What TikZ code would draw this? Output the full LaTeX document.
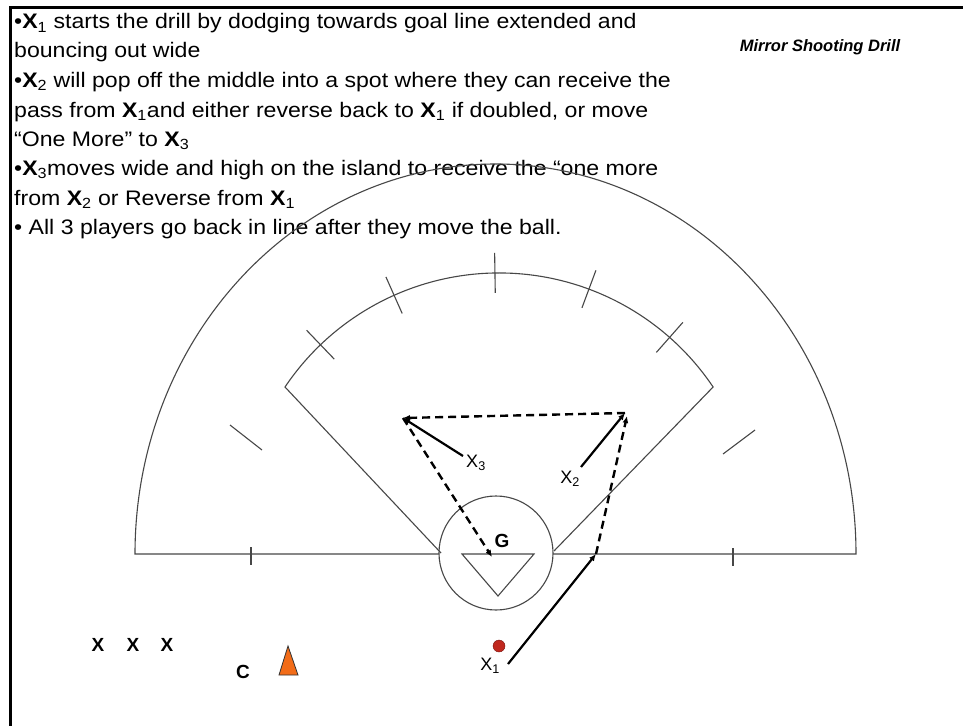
\documentclass[tikz,border=0pt]{standalone}
\usepackage{fontspec}
\setmainfont{Liberation Sans}
\newfontfamily\widefont{Liberation Sans}[FakeStretch=1.1]
\usetikzlibrary{arrows.meta}
\newcommand\PX[1]{\textbf{X}\textsubscript{#1}}
\begin{document}
\begin{tikzpicture}[x=1pt,y=1pt,
  field/.style={draw=black!72, line width=1.1pt},
  mv/.style={line width=2.2pt, -{Latex[length=7pt,width=6pt]}},
  pass/.style={line width=2.4pt, dash pattern=on 8pt off 5pt, -{Latex[length=7pt,width=6pt]}},
  txt/.style={anchor=base west, inner sep=0pt, font=\widefont\fontsize{21}{24}\selectfont},
  lbl/.style={inner sep=0pt, font=\fontsize{18}{20}\selectfont},
  blbl/.style={inner sep=0pt, font=\fontsize{19}{20}\selectfont\bfseries},
]
\useasboundingbox (0,0) rectangle (963,-725);
\fill[white] (0,0) rectangle (963,-725);
\draw[line width=3pt] (10,-740) -- (10,-7.5) -- (980,-7.5);

% text
\node[txt] (t1) at (14,-29) {•\PX{1} starts the drill by dodging towards goal line extended and};
\node[txt] (t2) at (14,-58) {bouncing out wide};
\node[txt] (t3) at (14,-87.5) {•\PX{2} will pop off the middle into a spot where they can receive the};
\node[txt] (t4) at (14,-117) {pass from \PX{1}and either reverse back to \PX{1} if doubled, or move};
\node[txt] (t5) at (14,-146) {“One More” to \PX{3}};
\node[txt] (t6) at (14,-175) {•\PX{3}moves wide and high on the island to receive the “one more};
\node[txt] (t7) at (14,-205) {from \PX{2} or Reverse from \PX{1}};
\node[txt] (t8) at (14,-234) {• All 3 players go back in line after they move the ball.};
\node[inner sep=0pt, font=\fontsize{16.5}{18}\selectfont\bfseries\itshape] (title) at (820,-47) {Mirror Shooting Drill};

% field
\draw[field] (439,-554) -- (135,-554) arc[start angle=180, end angle=0, x radius=360.5, y radius=390] -- (553,-554);
\draw[field] (496,-553) circle[radius=57];
\draw[field] (441,-553) -- (285,-387) arc[start angle=146.1, end angle=33.9, radius=257.9] -- (554,-551);
\begin{scope}[shift={(499,-530.9)}]
  \foreach \a in {133.8,114,90.9,69.6,48.6}
    \draw[field] (\a:238) -- (\a:278);
\end{scope}
\draw[field] (230,-425) -- (262,-450);
\draw[field] (723,-454) -- (755,-430);
\draw[field] (251,-547) -- (251,-565);
\draw[field] (733,-548) -- (733,-566);
\draw[field] (462,-554) -- (534,-554) -- (498,-596) -- cycle;

% labels
\node[blbl] (G) at (502,-541) {G};
\node[lbl] (x3) at (476,-463) {X\textsubscript{3}};
\node[lbl] (x2) at (570,-479) {X\textsubscript{2}};
\node[lbl] (x1) at (490,-666) {X\textsubscript{1}};
\node[blbl] (l1) at (98,-645) {X};
\node[blbl] (l2) at (133,-645) {X};
\node[blbl] (l3) at (167,-645) {X};
\node[blbl] (coach) at (243,-672) {C};
\draw[draw=black!80, line width=0.8pt, fill={rgb,255:red,242;green,108;blue,24}] (288,-646) -- (298,-675) -- (279,-675) -- cycle;
\node[circle, minimum size=12pt, inner sep=0pt, draw={rgb,255:red,120;green,20;blue,15}, fill={rgb,255:red,192;green,40;blue,30}] (ball) at (499,-646) {};

% movement coordinates
\coordinate (p3) at (403,-418);
\coordinate (p2) at (625,-413);
\coordinate (p2b) at (627,-416);
\coordinate (g) at (492,-557);
\coordinate (ge) at (596,-554);
\coordinate (x3s) at (463,-456);
\coordinate (x2s) at (581,-467);
\coordinate (x1s) at (508,-664);

\draw[mv] (x3s) -- (p3);
\draw[mv] (x2s) -- (p2);
\draw[mv] (x1s) -- (ge);
\draw[pass] (ge) -- (p2b);
\draw[pass] (p2) -- (p3);
\draw[pass] (p3) -- (g);
\end{tikzpicture}
\end{document}
